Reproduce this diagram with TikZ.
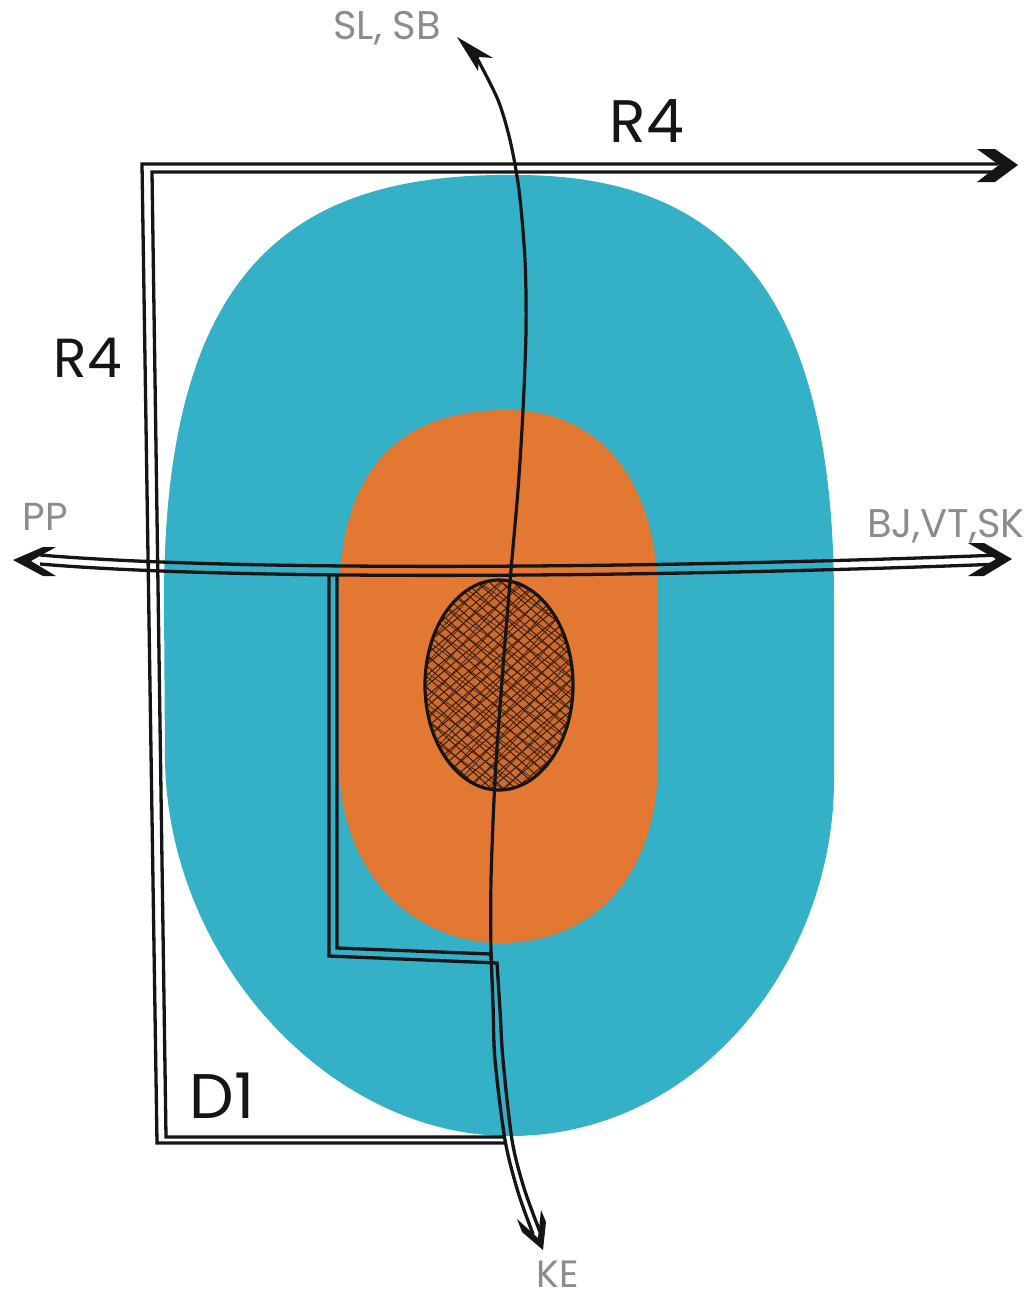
\documentclass[tikz,border=0pt]{standalone}
\usepackage{fontspec}
\setmainfont{Poppins}
\definecolor{blobcyan}{RGB}{52,176,199}
\definecolor{bloborange}{RGB}{226,120,50}
\definecolor{labelgray}{RGB}{140,140,140}
\definecolor{ink}{RGB}{22,20,20}
\definecolor{hatchink}{RGB}{60,30,15}
\begin{document}
\begin{tikzpicture}[x=1pt,y=-1pt,
  roadline/.style={draw=ink,line width=3.3pt,line join=miter},
  trackline/.style={draw=ink,line width=3.2pt},
  tipshape/.style={fill=ink},
  hatchline/.style={draw=hatchink,line width=1pt},
  biglbl/.style={font=\fontsize{60}{60}\selectfont,text=ink,inner sep=0pt,anchor=base},
  graylbl/.style={font=\fontsize{40}{40}\selectfont,text=labelgray,inner sep=0pt,anchor=base}]
\useasboundingbox (0,0) rectangle (1030,1298);

% outer zone
\fill[blobcyan] (517,175) .. controls (730,175) and (834,300) .. (834,600)
  -- (834,780) .. controls (834,960) and (700,1136) .. (510,1136)
  .. controls (330,1136) and (168,960) .. (165,760)
  -- (164,600) .. controls (164,270) and (290,172) .. (517,175) -- cycle;

% inner zone
\fill[bloborange] (507,410) .. controls (600,410) and (658,480) .. (658,600)
  -- (658,760) .. controls (658,880) and (590,943) .. (500,943)
  .. controls (420,943) and (339,880) .. (339,760)
  -- (339,600) .. controls (339,480) and (390,410) .. (507,410) -- cycle;

% core (hatched)
\fill[bloborange!90!black] (499,685) ellipse [x radius=74pt,y radius=105pt];
\begin{scope}
  \clip (499,685) ellipse [x radius=74pt,y radius=105pt];
  \begin{scope}[shift={(499,685)},rotate=40]
    \foreach \i in {-150,-142,...,150} \draw[hatchline] (-160,\i) -- (160,\i);
  \end{scope}
  \begin{scope}[shift={(499,685)},rotate=-42]
    \foreach \i in {-150,-142,...,150} \draw[hatchline] (-160,\i) -- (160,\i);
  \end{scope}
  \begin{scope}[shift={(502,688)},rotate=47]
    \foreach \i in {-150,-137,...,150} \draw[hatchline,line width=0.7pt] (-160,\i) -- (160,\i);
  \end{scope}
  \begin{scope}[shift={(496,682)},rotate=-35]
    \foreach \i in {-150,-137,...,150} \draw[hatchline,line width=0.7pt] (-160,\i) -- (160,\i);
  \end{scope}
\end{scope}
\draw[ink,line width=3.2pt] (499,685) ellipse [x radius=74pt,y radius=105pt];

% road R4 / D1 (two parallel lines)
\draw[roadline] (505,1143) -- (157,1143) -- (142,164) -- (998,164);
\draw[roadline] (505,1137) -- (166,1137) -- (152,172) -- (998,172);

% road PP - BJ,VT,SK
\draw[roadline] (40,555) .. controls (250,573) and (700,567) .. (1000,555);
\draw[roadline] (40,564) .. controls (250,582) and (700,576) .. (1000,564);

% branch road to KE
\draw[roadline] (329,576) -- (329,956) -- (497,963)
  -- plot[smooth] coordinates {(497,963) (500,1010) (503,1060) (512,1140) (524,1188) (540,1232)};
\draw[roadline] (337,576) -- (337,948) -- (491,954)
  -- plot[smooth] coordinates {(491,954) (493,1005) (495,1060) (505,1140) (518,1192) (533,1234)};

% single track towards SL, SB
\draw[trackline] plot[smooth] coordinates {
  (478,60) (498,100) (510,140) (519,190) (525,260) (526,330) (523,410)
  (518,490) (511,570) (502,680) (495,780) (491,880) (491,960)};

% arrow heads
\fill[tipshape] (977,149) -- (995,149) -- (1018,165) -- (995,182) -- (977,182) -- (999,165) -- cycle;
\fill[tipshape] (968,543) -- (984,543) -- (1012,559) -- (984,576) -- (968,576) -- (996,559) -- cycle;
\fill[tipshape] (56,547) -- (43,547) -- (13,560) -- (43,576) -- (56,576) -- (31,561) -- cycle;
\fill[tipshape] (541,1210) -- (546,1222) -- (543,1250) -- (522,1232) -- (517,1219) -- (538,1238) -- cycle;
\fill[tipshape] (457,37) -- (493,58) -- (479,57) -- (478,71) -- cycle;

% labels
\node[biglbl] (r4top) at (647,142) {R4};
\node[biglbl,font=\fontsize{55}{55}\selectfont] (r4left) at (88,377) {R4};
\node[biglbl,font=\fontsize{63}{63}\selectfont] (d1) at (222,1118) {D1};
\node[graylbl] (slsb) at (387,40) {SL, SB};
\node[graylbl,font=\fontsize{39}{39}\selectfont] (pp) at (45,530) {PP};
\node[graylbl] (bj) at (946,537) {BJ,VT,SK};
\node[graylbl,font=\fontsize{38}{38}\selectfont] (ke) at (558,1287) {KE};
\end{tikzpicture}
\end{document}
